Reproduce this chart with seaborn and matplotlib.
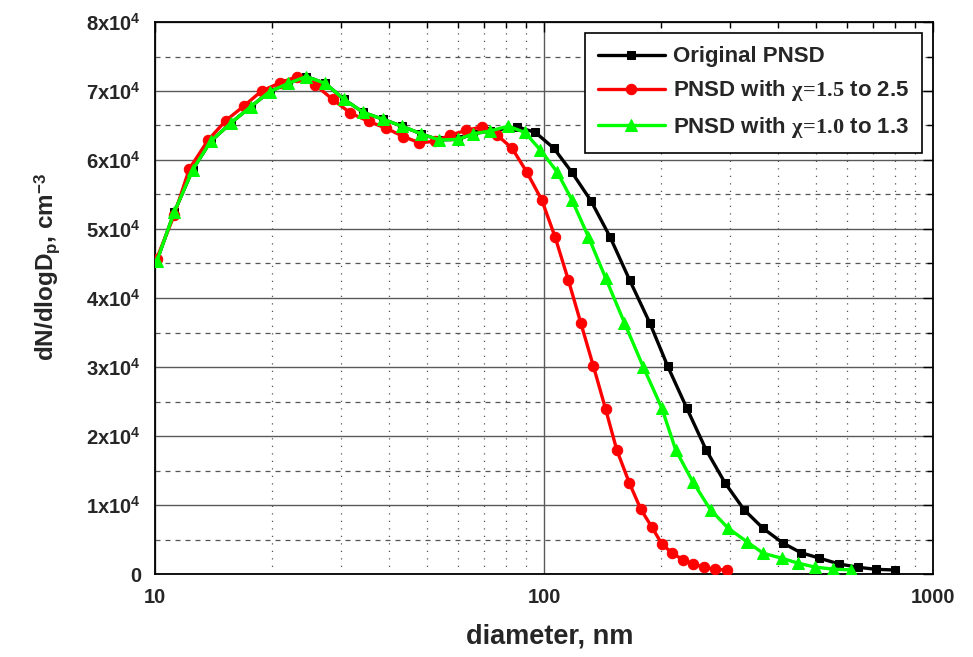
import matplotlib
matplotlib.use("Agg")
import matplotlib.pyplot as plt
import seaborn as sns
import numpy as np
from matplotlib.ticker import FixedLocator, NullFormatter, LogLocator

# Particle number size distributions, dN/dlogDp in units of 1e4 cm^-3
diam_orig = [10.1, 11.2, 12.5, 13.9, 15.7, 17.6, 19.7, 22.0, 24.5, 27.4,
             30.6, 34.3, 38.6, 43.1, 48.3, 53.8, 60.2, 65.8, 72.6, 85.3,
             95.0, 106, 118, 132, 148, 166, 187, 208, 233, 261,
             292, 327, 366, 411, 457, 510, 574, 643, 713, 798]
pnsd_orig = [4.53, 5.24, 5.86, 6.27, 6.54, 6.77, 6.99, 7.11, 7.21, 7.11,
             6.88, 6.69, 6.59, 6.49, 6.38, 6.29, 6.30, 6.38, 6.42, 6.48,
             6.40, 6.17, 5.82, 5.41, 4.88, 4.26, 3.64, 3.01, 2.40, 1.80,
             1.32, 0.93, 0.66, 0.45, 0.31, 0.23, 0.145, 0.097, 0.068, 0.058]

diam_chi_high = [10.1, 11.2, 12.25, 13.7, 15.2, 16.9, 18.8, 21.0, 23.2, 25.8,
                 28.6, 31.8, 35.4, 39.3, 43.5, 47.8, 52.5, 57.3, 63.2, 69.2,
                 75.8, 82.8, 90.2, 98.7, 106.7, 115.5, 124.3, 134, 144, 153.8,
                 165.7, 177.3, 189.3, 200.7, 213.7, 227.3, 242, 257.8, 275, 295]
pnsd_chi_high = [4.57, 5.20, 5.87, 6.29, 6.57, 6.78, 7.00, 7.12, 7.21, 7.09,
                 6.88, 6.68, 6.56, 6.46, 6.34, 6.25, 6.27, 6.36, 6.43, 6.48,
                 6.36, 6.17, 5.83, 5.42, 4.89, 4.26, 3.64, 3.01, 2.39, 1.80,
                 1.32, 0.94, 0.68, 0.44, 0.30, 0.21, 0.145, 0.097, 0.068, 0.058]

diam_chi_low = [10.1, 11.2, 12.5, 13.9, 15.7, 17.6, 19.7, 22.0, 24.5, 27.4,
                30.6, 34.3, 38.6, 43.1, 48.3, 53.8, 60.2, 65.8, 72.6, 80.9,
                89.3, 97.7, 108, 118, 130, 144, 161, 180, 201, 218,
                241, 268, 298, 332, 366, 408, 451, 498, 554, 614]
pnsd_chi_low = [4.53, 5.24, 5.86, 6.27, 6.54, 6.77, 6.99, 7.11, 7.21, 7.11,
                6.88, 6.69, 6.59, 6.49, 6.38, 6.29, 6.30, 6.38, 6.42, 6.49,
                6.40, 6.15, 5.83, 5.42, 4.89, 4.29, 3.64, 3.00, 2.40, 1.80,
                1.34, 0.93, 0.66, 0.47, 0.30, 0.23, 0.155, 0.10, 0.07, 0.06]

series_labels = ["Original PNSD",
                 r"PNSD with $\mathrm{\chi}\!\mathrm{=}\!\mathrm{1.5}$ to 2.5",
                 r"PNSD with $\mathrm{\chi}\!\mathrm{=}\!\mathrm{1.0}$ to 1.3"]

y_ticks = [0, 1, 2, 3, 4, 5, 6, 7, 8]
y_ticklabels = ["0"] + [r"%dx10$^{\mathbf{4}}$" % v for v in y_ticks[1:]]
x_ticks = [10, 100, 1000]
x_ticklabels = ["10", "100", "1000"]

sns.set_style("white")
plt.rcParams.update({
    "font.family": ["Liberation Sans", "DejaVu Sans"],
    "font.weight": "bold",
    "mathtext.fontset": "custom",
    "mathtext.rm": "Liberation Serif",
    "mathtext.it": "Liberation Serif:italic",
    "mathtext.bf": "Liberation Sans:bold",
    "mathtext.sf": "Liberation Sans:bold",
})

fig = plt.figure(figsize=(9.73, 6.57), dpi=100)
ax = fig.add_axes([155 / 973, 1 - 574 / 657, 778 / 973, 552 / 657])
ax.set_xscale("log")

common = dict(ax=ax, sort=False, estimator=None, linewidth=2.4)
sns.lineplot(x=diam_orig, y=np.array(pnsd_orig) * 1e4, color="black",
             marker="s", markersize=5.5, markeredgecolor="black",
             label=series_labels[0], zorder=3, **common)
sns.lineplot(x=diam_chi_high, y=np.array(pnsd_chi_high) * 1e4, color="#ff0000",
             marker="o", markersize=7.5, markeredgecolor="#ff0000",
             label=series_labels[1], zorder=4, **common)
sns.lineplot(x=diam_chi_low, y=np.array(pnsd_chi_low) * 1e4, color="#00ff00",
             marker="^", markersize=8, markeredgecolor="#00ff00",
             label=series_labels[2], zorder=5, **common)

ax.set_xlim(10, 1000)
ax.set_ylim(0, 8e4)

ax.xaxis.set_major_locator(FixedLocator(x_ticks))
ax.set_xticklabels(x_ticklabels)
ax.xaxis.set_minor_locator(LogLocator(base=10, subs=np.arange(2, 10)))
ax.xaxis.set_minor_formatter(NullFormatter())
ax.set_yticks([v * 1e4 for v in y_ticks])
ax.set_yticklabels(y_ticklabels)
ax.yaxis.set_minor_locator(FixedLocator([(v + 0.5) * 1e4 for v in y_ticks[:-1]]))

ax.tick_params(which="both", direction="in", top=True, right=True,
               color="black", width=1.0)
ax.tick_params(which="major", length=7)
ax.tick_params(which="minor", length=4)
ax.tick_params(axis="x", which="major", labelsize=14.5, pad=10)
ax.tick_params(axis="y", which="major", labelsize=14.5, pad=10)
for lab in ax.get_xticklabels() + ax.get_yticklabels():
    lab.set_fontweight("bold")

ax.grid(which="major", axis="both", color="#5a5a5a", linewidth=1.0, linestyle="-")
ax.grid(which="minor", axis="x", color="#555555", linewidth=0.9, linestyle=(0, (1, 5)))
ax.grid(which="minor", axis="y", color="#555555", linewidth=0.9, linestyle=(0, (4, 4)))
ax.set_axisbelow(True)

for sp in ax.spines.values():
    sp.set_color("black")
    sp.set_linewidth(1.3)

ax.set_xlabel("")
ax.set_ylabel("")
fig.text(550 / 973, 1 - 637 / 657, "diameter, nm", ha="center", va="center",
         fontsize=19.5, fontweight="bold")
fig.text(47 / 973, 1 - 267 / 657,
         r"dN/dlogD$_{\mathbf{p}}$, cm$^{\mathbf{-3}}$",
         rotation=90, ha="center", va="center", fontsize=17.5, fontweight="bold")

leg = ax.legend(loc="upper right", bbox_to_anchor=(0.986, 0.980),
                frameon=True, fancybox=False, edgecolor="black",
                prop={"size": 16, "weight": "bold"}, handlelength=3.0,
                handletextpad=0.35, labelspacing=0.5, borderpad=0.6,
                numpoints=1, borderaxespad=0)
leg.get_frame().set_linewidth(1.2)
leg.get_frame().set_alpha(1)

fig.savefig("out.png", dpi=100, facecolor="white")
